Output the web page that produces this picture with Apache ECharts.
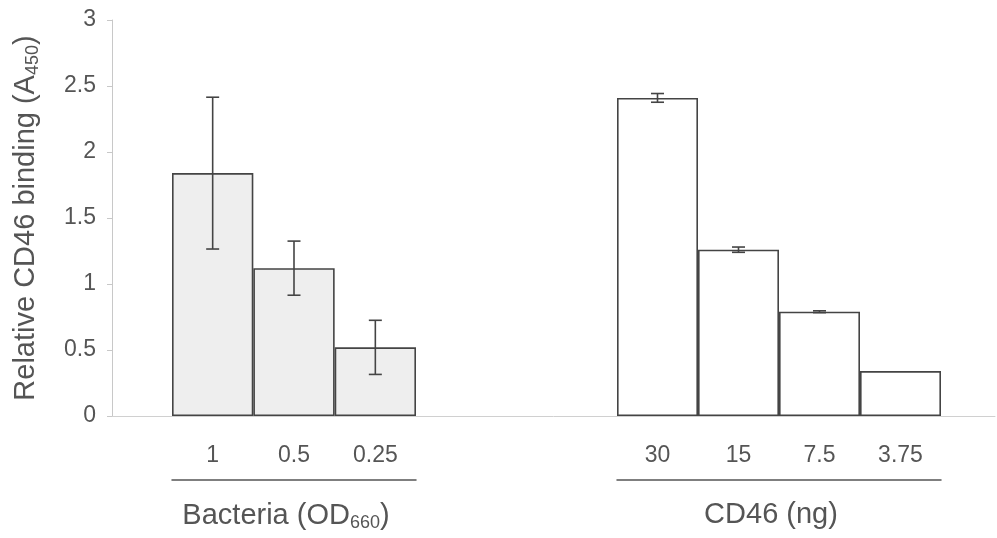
<!DOCTYPE html>
<html>
<head>
<meta charset="utf-8">
<script src="https://cdn.jsdelivr.net/npm/echarts@6/dist/echarts.min.js"></script>
<style>
html,body{margin:0;padding:0;background:#fff;}
#chart{width:997px;height:538px;}
</style>
</head>
<body>
<div id="chart"></div>
<script>
// ---- data ----
var bacteriaLabels = ['1', '0.5', '0.25'];
var bacteriaValues = [1.84, 1.12, 0.52];
var bacteriaErr = [0.575, 0.205, 0.205];

var cd46Labels = ['30', '15', '7.5', '3.75'];
var cd46Values = [2.41, 1.26, 0.79, 0.34];
var cd46Err = [0.033, 0.02, 0.007, 0];

var yTicks = [0, 0.5, 1, 1.5, 2, 2.5, 3];

var groupTitles = ['Bacteria (OD{sub|660})', 'CD46 (ng)'];
var yTitle = 'Relative CD46 binding (A{sub|450})';

// ---- style ----
var FONT = 'Liberation Sans, Arial, sans-serif';
var TXT = '#555555';
var TOP = 20, BOTTOM = 122;

function errData(vals, errs) {
  return vals.map(function (v, i) { return [i, v - errs[i], v + errs[i]]; });
}
function renderErr(params, api) {
  var lo = api.value(1), hi = api.value(2);
  if (hi - lo <= 0) return null;
  var p1 = api.coord([api.value(0), lo]);
  var p2 = api.coord([api.value(0), hi]);
  var w = 6.5;
  var st = { stroke: '#444', lineWidth: 1.6 };
  return {
    type: 'group',
    children: [
      { type: 'line', shape: { x1: p1[0], y1: p1[1], x2: p2[0], y2: p2[1] }, style: st },
      { type: 'line', shape: { x1: p1[0] - w, y1: p1[1], x2: p1[0] + w, y2: p1[1] }, style: st },
      { type: 'line', shape: { x1: p2[0] - w, y1: p2[1], x2: p2[0] + w, y2: p2[1] }, style: st }
    ]
  };
}

var subRich = { sub: { fontSize: 18, fontFamily: FONT, color: TXT, padding: [14, 0, 0, 0] } };

function labelAxis(gi, labels) {
  return {
    type: 'category', gridIndex: gi, data: labels,
    axisLine: { show: false }, axisTick: { show: false },
    axisLabel: { fontSize: 23, fontFamily: FONT, color: TXT, margin: 28 }
  };
}
function lineAxis(gi, labels, title) {
  return {
    type: 'category', gridIndex: gi, data: labels, position: 'bottom', offset: 64,
    axisLine: { show: true, lineStyle: { color: '#555', width: 1.5 } },
    axisTick: { show: false }, axisLabel: { show: false },
    name: title, nameLocation: 'middle', nameGap: 20,
    nameTextStyle: { fontSize: 29, fontFamily: FONT, color: TXT, rich: subRich, padding: [0, 16, 0, 0] }
  };
}
function hiddenY(gi) {
  return { type: 'value', gridIndex: gi, min: yTicks[0], max: yTicks[yTicks.length - 1], show: false, splitLine: { show: false } };
}

var option = {
  backgroundColor: '#ffffff',
  animation: false,
  grid: [
    { left: 112, right: 2, top: TOP, bottom: BOTTOM, outerBoundsMode: 'none', containLabel: false },
    { left: 172, width: 244, top: TOP, bottom: BOTTOM, outerBoundsMode: 'none', containLabel: false },
    { left: 617, width: 324, top: TOP, bottom: BOTTOM, outerBoundsMode: 'none', containLabel: false }
  ],
  xAxis: [
    { type: 'value', gridIndex: 0, min: 0, max: 1, axisLine: { show: true, onZero: false, lineStyle: { color: '#d0d0d0', width: 1 } },
      axisTick: { show: false }, axisLabel: { show: false }, splitLine: { show: false } },
    labelAxis(1, bacteriaLabels),
    lineAxis(1, bacteriaLabels, groupTitles[0]),
    labelAxis(2, cd46Labels),
    lineAxis(2, cd46Labels, groupTitles[1])
  ],
  yAxis: [
    { type: 'value', gridIndex: 0, min: yTicks[0], max: yTicks[yTicks.length - 1], interval: yTicks[1] - yTicks[0],
      axisLine: { show: true, lineStyle: { color: '#c8c8c8', width: 1 } },
      axisTick: { show: true, length: 5, lineStyle: { color: '#c8c8c8' } },
      axisLabel: { fontSize: 23, fontFamily: FONT, color: TXT, margin: 16 },
      splitLine: { show: false },
      name: yTitle, nameLocation: 'middle', nameRotate: 90, nameGap: 70,
      nameTextStyle: { fontSize: 29, fontFamily: FONT, color: TXT, rich: { sub: { fontSize: 18, fontFamily: FONT, color: TXT, padding: [14, 0, 0, 0] } } }
    },
    hiddenY(1), hiddenY(2)
  ],
  series: [
    { type: 'bar', xAxisIndex: 1, yAxisIndex: 1, data: bacteriaValues, barCategoryGap: 0, barWidth: '100%',
      itemStyle: { color: '#eeeeee', borderColor: '#444', borderWidth: 1.6 } },
    { type: 'custom', xAxisIndex: 1, yAxisIndex: 1, data: errData(bacteriaValues, bacteriaErr), renderItem: renderErr, z: 5 },
    { type: 'bar', xAxisIndex: 3, yAxisIndex: 2, data: cd46Values, barCategoryGap: 0, barWidth: '100%',
      itemStyle: { color: '#ffffff', borderColor: '#444', borderWidth: 1.6 } },
    { type: 'custom', xAxisIndex: 3, yAxisIndex: 2, data: errData(cd46Values, cd46Err), renderItem: renderErr, z: 5 }
  ]
};

var chart = echarts.init(document.getElementById('chart'), null, { renderer: 'canvas' });
chart.setOption(option);
</script>
</body>
</html>
